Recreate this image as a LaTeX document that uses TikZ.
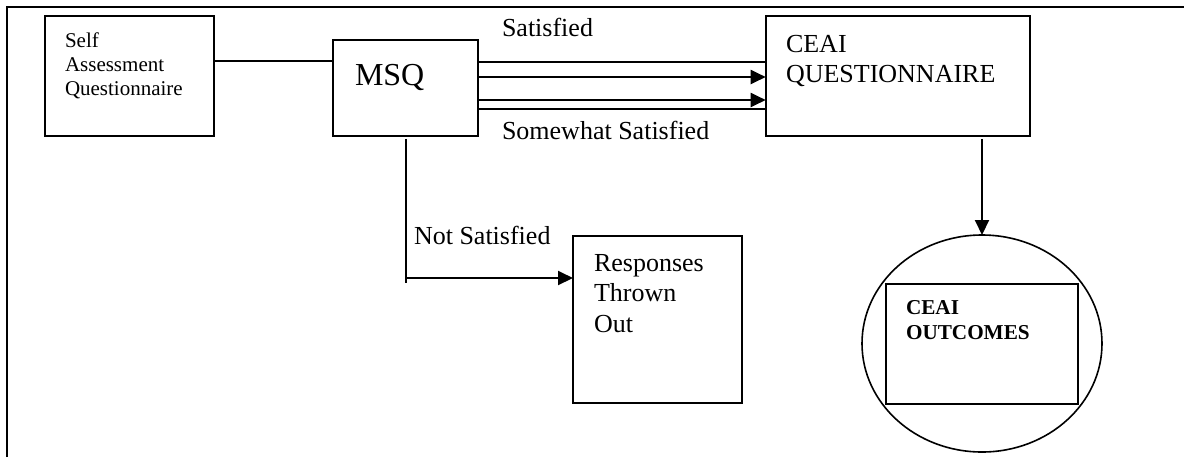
\documentclass[tikz,border=0pt]{standalone}
\usepackage{fontspec}
\setmainfont{Liberation Serif}
\usetikzlibrary{arrows.meta,positioning,shapes.geometric}

\begin{document}
\begin{tikzpicture}[x=0.5pt,y=-0.5pt,>={Triangle[length=7.5pt,width=7pt]},
  every node/.style={inner sep=0pt,outer sep=0pt},
  every path/.style={line width=1pt},
  box/.style={draw,line width=1pt},
  txt/.style={anchor=north west,align=left},
  lbl/.style={anchor=base west,font=\fontsize{13}{15}\selectfont}]
		\useasboundingbox (0,0) rectangle (1184,457);
		\draw[line width=1.4pt] (7,457) -- (7,7) -- (1184,7);

		\node[box,minimum width=84.5pt,minimum height=60pt] (self) at (129.5,75.7) {};
		\node[box,minimum width=72.5pt,minimum height=47.85pt] (msq) at (405.5,87.85) {};
		\node[box,minimum width=132.15pt,minimum height=60pt] (ceai) at (897.85,75.7) {};
		\node[box,minimum width=84.5pt,minimum height=83.5pt] (resp) at (657.5,319.5) {};
		\node[draw,ellipse,line width=0.8pt,minimum width=120pt,minimum height=108.5pt] (outc) at (982,343.5) {};
		\node[box,minimum width=96pt,minimum height=60pt] (outbox) at (981.7,344) {};

		\node[txt,font=\fontsize{10.5}{12}\selectfont] (selft) at (65,33) {Self\\Assessment\\Questionnaire};
		\node[anchor=base west,font=\fontsize{16}{19}\selectfont] (msqt) at (355,85) {MSQ};
		\node[txt,font=\fontsize{13}{15}\selectfont] (ceait) at (786,35) {CEAI\\QUESTIONNAIRE};
		\node[txt,font=\fontsize{13}{15.25}\selectfont] (respt) at (594,254) {Responses\\Thrown\\Out};
		\node[txt,font=\fontsize{10.6}{12.5}\selectfont\bfseries] (outt) at (906,300) {CEAI\\OUTCOMES};
		\node[lbl] (sat) at (502,36) {Satisfied};
		\node[lbl] (somesat) at (502,139) {Somewhat Satisfied};
		\node[lbl] (notsat) at (414,244) {Not Satisfied};

		\coordinate (ns) at (msq.south |- 0,278);
		\coordinate (msqb) at ([yshift=-1.6pt]msq.south);
		\coordinate (ceaib) at ([yshift=-1.6pt]ceai.south -| outc.north);

		\draw (self.east |- 0,61) -- (msq.west |- 0,61);
		\draw (msq.east |- 0,62) -- (ceai.west |- 0,62);
		\draw[->] (msq.east |- 0,77) -- (ceai.west |- 0,77);
		\draw[->] (msq.east |- 0,100) -- (ceai.west |- 0,100);
		\draw (msq.east |- 0,109) -- (ceai.west |- 0,109);
		\draw (msqb) -- ([yshift=-2.5pt]ns);
		\draw[->] (ns) -- (ns -| resp.west);
		\draw[->] (ceaib) -- (outc.north);
	\end{tikzpicture}
\end{document}
